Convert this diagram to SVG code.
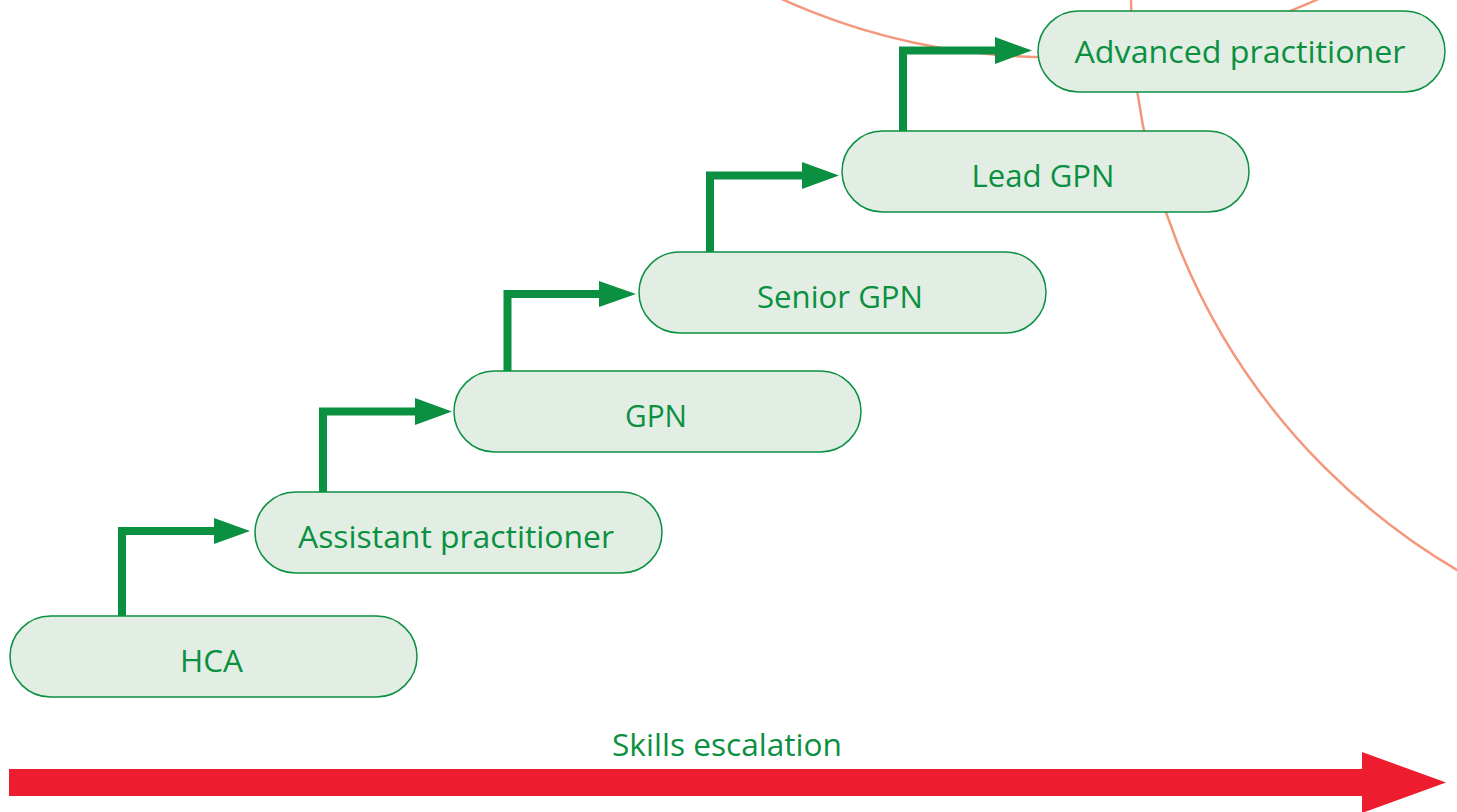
<svg xmlns="http://www.w3.org/2000/svg" width="1457" height="812" viewBox="0 0 1457 812">
  <defs>
    <style>
      .ring { fill: none; stroke: #f4977c; stroke-width: 2.5; }
      .box { fill: #e2eee3; stroke: #0a9040; stroke-width: 1.5; }
      .lbl { font-family: "Open Sans", "Liberation Sans", sans-serif; font-size: 31px; fill: #0a9040; text-anchor: middle; }
      .conn { fill: none; stroke: #0a9040; stroke-width: 8; stroke-linejoin: miter; }
      .head { fill: #0a9040; }
    </style>
  </defs>
  <rect width="1457" height="812" fill="#ffffff"/>

  <g id="background-circles">
    <circle class="ring" cx="1792" cy="0" r="661"/>
    <circle class="ring" cx="1050" cy="-593" r="650"/>
  </g>

  <g id="node-hca">
    <rect class="box" x="10" y="616" width="407" height="81" rx="40.5"/>
    <text class="lbl" x="211.5" y="672" textLength="63" lengthAdjust="spacingAndGlyphs">HCA</text>
  </g>
  <g id="node-assistant">
    <rect class="box" x="255" y="492" width="407" height="81" rx="40.5"/>
    <text class="lbl" x="456" y="548" textLength="316" lengthAdjust="spacingAndGlyphs">Assistant practitioner</text>
  </g>
  <g id="node-gpn">
    <rect class="box" x="454" y="371" width="407" height="81" rx="40.5"/>
    <text class="lbl" x="656" y="427" textLength="62" lengthAdjust="spacingAndGlyphs">GPN</text>
  </g>
  <g id="node-senior">
    <rect class="box" x="639" y="252" width="407" height="81" rx="40.5"/>
    <text class="lbl" x="840" y="308" textLength="166" lengthAdjust="spacingAndGlyphs">Senior GPN</text>
  </g>
  <g id="node-lead">
    <rect class="box" x="842" y="131" width="407" height="81" rx="40.5"/>
    <text class="lbl" x="1043" y="187" textLength="143" lengthAdjust="spacingAndGlyphs">Lead GPN</text>
  </g>
  <g id="node-advanced">
    <rect class="box" x="1038" y="11" width="407" height="81" rx="40.5"/>
    <text class="lbl" x="1240" y="63" textLength="331" lengthAdjust="spacingAndGlyphs">Advanced practitioner</text>
  </g>

  <g id="connectors">
    <path class="conn" d="M122,616 V531 H216"/>
    <polygon class="head" points="214,518 250,531 214,544"/>
    <path class="conn" d="M323,492 V411.5 H417"/>
    <polygon class="head" points="415,398 452,411.5 415,425"/>
    <path class="conn" d="M507.5,371 V294 H601"/>
    <polygon class="head" points="599,281 636,294 599,307"/>
    <path class="conn" d="M710,252 V175.5 H804"/>
    <polygon class="head" points="802,162 839,175.5 802,189"/>
    <path class="conn" d="M903,131 V50.5 H997"/>
    <polygon class="head" points="995,37 1032,50.5 995,64"/>
  </g>

  <g id="skills-escalation">
    <text class="lbl" x="727" y="756" textLength="230" lengthAdjust="spacingAndGlyphs">Skills escalation</text>
    <polygon fill="#ed1c2e" points="9,769 1362,769 1362,752 1446,782.5 1362,813 1362,796 9,796"/>
  </g>
</svg>
